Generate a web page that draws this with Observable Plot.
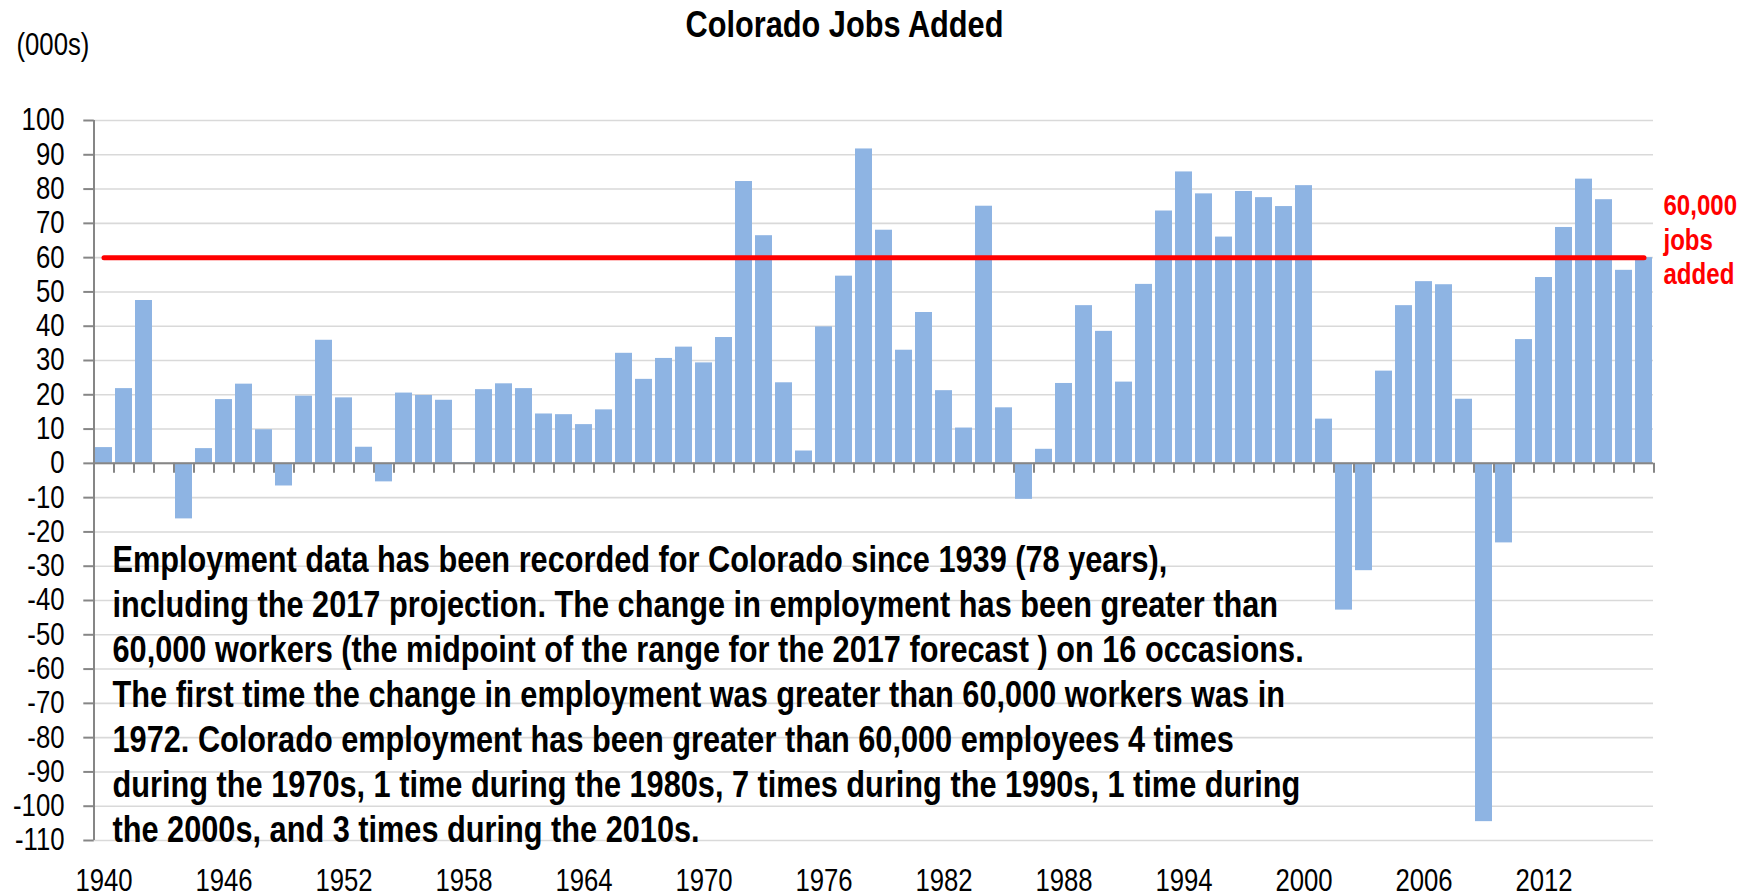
<!DOCTYPE html>
<html>
<head>
<meta charset="utf-8">
<script src="https://cdn.jsdelivr.net/npm/d3@7"></script>
<script src="https://cdn.jsdelivr.net/npm/@observablehq/plot@0.6"></script>
<style>
  html, body { margin: 0; padding: 0; background: #ffffff; }
  #chart svg { display: block; }
</style>
</head>
<body>
<div id="chart"></div>
<script>
// ---- Data (thousands of jobs added, by year) ----
const years = [
  1940, 1941, 1942, 1943, 1944, 1945, 1946, 1947, 1948, 1949,
  1950, 1951, 1952, 1953, 1954, 1955, 1956, 1957, 1958, 1959,
  1960, 1961, 1962, 1963, 1964, 1965, 1966, 1967, 1968, 1969,
  1970, 1971, 1972, 1973, 1974, 1975, 1976, 1977, 1978, 1979,
  1980, 1981, 1982, 1983, 1984, 1985, 1986, 1987, 1988, 1989,
  1990, 1991, 1992, 1993, 1994, 1995, 1996, 1997, 1998, 1999,
  2000, 2001, 2002, 2003, 2004, 2005, 2006, 2007, 2008, 2009,
  2010, 2011, 2012, 2013, 2014, 2015, 2016, 2017
];
const jobsAdded = [
  4.6, 21.8, 47.5, 0, -16.2, 4.3, 18.6, 23.1, 9.8, -6.6,
  19.6, 35.9, 19.1, 4.7, -5.4, 20.5, 19.8, 18.4, 0.2, 21.5,
  23.2, 21.8, 14.4, 14.2, 11.3, 15.6, 32.1, 24.5, 30.6, 33.9,
  29.3, 36.7, 82.2, 66.4, 23.5, 3.6, 39.8, 54.6, 91.7, 68.0,
  33.0, 44.0, 21.2, 10.3, 75.0, 16.2, -10.5, 4.1, 23.3, 46.0,
  38.5, 23.7, 52.2, 73.6, 85.0, 78.6, 66.0, 79.3, 77.5, 74.9,
  81.0, 12.9, -42.8, -31.3, 26.9, 46.0, 53.0, 52.1, 18.7, -104.5,
  -23.2, 36.1, 54.2, 68.8, 82.9, 76.9, 56.3, 60.0
];
const threshold = 60;
const yTicks = [100, 90, 80, 70, 60, 50, 40, 30, 20, 10, 0, -10, -20, -30, -40, -50, -60, -70, -80, -90, -100, -110];
const xLabelYears = [1940, 1946, 1952, 1958, 1964, 1970, 1976, 1982, 1988, 1994, 2000, 2006, 2012];

const titleText = "Colorado Jobs Added";
const unitText = "(000s)";
const thresholdLabel = ["60,000", "jobs", "added"];
const noteLines = [
  "Employment data has been recorded for Colorado since 1939 (78 years),",
  "including the 2017 projection. The change in employment has been greater than",
  "60,000 workers (the midpoint of the range for the 2017 forecast ) on 16 occasions.",
  "The first time the change in employment was greater than 60,000 workers was in",
  "1972. Colorado employment has been greater than 60,000 employees 4 times",
  "during the 1970s, 1 time during the 1980s, 7 times during the 1990s, 1 time during",
  "the 2000s, and 3 times during the 2010s."
];

// ---- Build table ----
const data = years.map((year, i) => ({year, value: jobsAdded[i]}));
const thresholdLine = [
  {year: years[0], value: threshold},
  {year: years[years.length - 1], value: threshold}
];
const yMax = yTicks[0], yMin = yTicks[yTicks.length - 1];

const FONT = "'Liberation Sans Narrow', 'Arial Narrow', 'Liberation Sans', Arial, sans-serif";
const AXIS = "#868686";
const NARROW = 0.83; // horizontal squeeze to mimic a narrow typeface

const chart = Plot.plot({
  width: 1750,
  height: 895,
  marginLeft: 93,
  marginRight: 97,
  marginTop: 120,
  marginBottom: 55,
  style: {fontFamily: FONT, background: "#ffffff", color: "#000000", overflow: "visible"},
  x: {type: "band", domain: years, paddingInner: 0.17, paddingOuter: 0.085, axis: null},
  y: {domain: [yMin, yMax], axis: null},
  marks: [
    // horizontal gridlines
    Plot.ruleY(yTicks, {stroke: "#d9d9d9", strokeWidth: 1.6}),
    // bars
    Plot.barY(data, {x: "year", y: "value", fill: "#8eb4e3"}),
    // y axis line (left edge of the first category band)
    Plot.ruleX([years[0]], {x: d => d, y1: () => yMin, y2: () => yMax, dx: -10, stroke: AXIS, strokeWidth: 2}),
    // y ticks (short, outside to the left)
    Plot.tickY(yTicks, {x: () => years[0], y: d => d, dx: -11.7, insetRight: 6.6, stroke: AXIS, strokeWidth: 2}),
    // y tick labels
    Plot.text(yTicks, {y: d => d, text: d => String(d), frameAnchor: "left", textAnchor: "end", dx: -29, fontSize: 31, fill: "#000000"}),
    // x axis line at zero and category separator ticks
    Plot.ruleY([0], {stroke: AXIS, strokeWidth: 2}),
    Plot.ruleX(years, {x: d => d, y1: () => 0, y2: () => -2.9, dx: -10, stroke: AXIS, strokeWidth: 2}),
    Plot.ruleX([years[years.length - 1]], {x: d => d, y1: () => 0, y2: () => -2.9, dx: 10, stroke: AXIS, strokeWidth: 2}),
    // x labels
    Plot.text(xLabelYears, {x: d => d, text: d => String(d), frameAnchor: "bottom", lineAnchor: "top", dy: 28, fontSize: 31, fill: "#000000"}),
    // threshold line
    Plot.line(thresholdLine, {x: "year", y: "value", stroke: "#ff0000", strokeWidth: 5, strokeLinecap: "round"}),
    // threshold label
    Plot.text([thresholdLabel.join("\n")], {
      frameAnchor: "top-right", textAnchor: "start", lineAnchor: "middle",
      dx: 10, dy: 118, fontSize: 29, fontWeight: "bold", fill: "#ff0000", lineHeight: 1.2
    }),
    // annotation
    Plot.text([noteLines.join("\n")], {
      frameAnchor: "left", textAnchor: "start", lineAnchor: "middle",
      dx: 19, dy: 212, fontSize: 37, fontWeight: "bold", fill: "#000000", lineHeight: 1.22
    }),
    // title
    Plot.text([titleText], {
      frameAnchor: "top", lineAnchor: "middle", dx: -29, dy: -95.5,
      fontSize: 37, fontWeight: "bold", fill: "#000000"
    }),
    // unit label
    Plot.text([unitText], {
      frameAnchor: "top-left", textAnchor: "start", lineAnchor: "middle",
      dx: -77, dy: -75, fontSize: 31, fill: "#000000"
    })
  ]
});

// squeeze every text horizontally around its own anchor point
chart.querySelectorAll("text").forEach(t => {
  const tr = t.getAttribute("transform");
  if (tr) {
    t.setAttribute("transform", tr + ` scale(${NARROW},1)`);
  } else {
    const x = +(t.getAttribute("x") || 0), y = +(t.getAttribute("y") || 0);
    t.removeAttribute("x"); t.removeAttribute("y");
    t.setAttribute("transform", `translate(${x},${y}) scale(${NARROW},1)`);
  }
});

document.getElementById("chart").appendChild(chart);
</script>
</body>
</html>
